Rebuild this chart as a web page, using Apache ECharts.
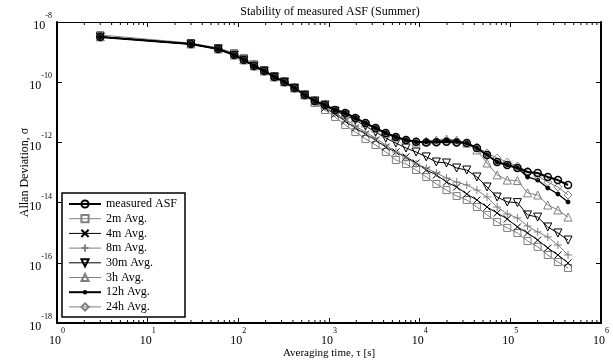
<!DOCTYPE html>
<html><head><meta charset="utf-8">
<script src="https://cdn.jsdelivr.net/npm/echarts@6/dist/echarts.min.js"></script>
<style>html,body{margin:0;padding:0;background:#fff}#c{width:613px;height:361px}</style>
</head><body><div id="c"></div>
<script>
// averaging time tau [s]
const tau = [3,30,60,90,115,149,193,250,323,417,540,698,903,1168,1510,1953,2526,3267,4225,5465,7068,9141,11823,15291,19770,25570,33070,42770,55320,71550,92520,119700,154800,200200,258800,334700,432900];

const asf = [3.2e-9,1.86e-9,1.27e-9,8.0e-10,5.5e-10,3.45e-10,2.35e-10,1.49e-10,1.02e-10,6.4e-11,3.76e-11,2.38e-11,1.75e-11,1.19e-11,9.5e-12,6.5e-12,4.4e-12,3.0e-12,2.05e-12,1.51e-12,1.2e-12,1.05e-12,1.0e-12,1.02e-12,1.06e-12,1.0e-12,9.5e-13,6.5e-13,3.8e-13,2.23e-13,1.78e-13,1.41e-13,1.04e-13,9.6e-14,7.1e-14,5.6e-14,3.85e-14];

const avg2m = [3.7e-9,2.0e-9,1.37e-9,9.3e-10,6.4e-10,4.0e-10,2.5e-10,1.6e-10,1.02e-10,6.4e-11,3.76e-11,2.04e-11,1.19e-11,7.0e-12,3.8e-12,2.2e-12,1.3e-12,8.2e-13,4.8e-13,2.6e-13,1.92e-13,1.21e-13,7.1e-14,4.15e-14,2.6e-14,1.66e-14,1.22e-14,7.1e-15,3.9e-15,2.27e-15,1.44e-15,9.8e-16,5.3e-16,3.4e-16,1.82e-16,1.06e-16,6.7e-17];

const avg4m = [3.2e-9,1.86e-9,1.27e-9,8.0e-10,5.5e-10,3.45e-10,2.35e-10,1.49e-10,1.02e-10,6.4e-11,3.76e-11,2.2e-11,1.39e-11,8.8e-12,5.1e-12,3.0e-12,1.9e-12,1.2e-12,7.0e-13,4.8e-13,3.3e-13,2.07e-13,1.21e-13,8.3e-14,4.8e-14,3.3e-14,1.93e-14,1.22e-14,7.1e-15,4.5e-15,2.86e-15,1.55e-15,9.8e-16,5.7e-16,3.1e-16,1.82e-16,9.9e-17];

const avg8m = [3.2e-9,1.86e-9,1.27e-9,8.0e-10,5.5e-10,3.45e-10,2.35e-10,1.49e-10,1.02e-10,6.4e-11,3.76e-11,2.2e-11,1.5e-11,9.5e-12,6.0e-12,3.5e-12,2.2e-12,1.4e-12,8.2e-13,4.8e-13,3.0e-13,1.92e-13,1.41e-13,9.6e-14,6.6e-14,4.8e-14,3.85e-14,2.6e-14,1.53e-14,7.1e-15,4.2e-15,3.1e-15,1.67e-15,1.06e-15,7.2e-16,3.9e-16,1.82e-16];

const avg30m = [3.2e-9,1.86e-9,1.27e-9,8.0e-10,5.5e-10,3.45e-10,2.35e-10,1.49e-10,1.02e-10,6.4e-11,3.76e-11,2.38e-11,1.75e-11,1.10e-11,8.1e-12,5.5e-12,3.5e-12,2.2e-12,1.4e-12,9.5e-13,6.5e-13,4.8e-13,3.3e-13,2.23e-13,2.07e-13,1.41e-13,1.21e-13,7.1e-14,3.3e-14,1.53e-14,1.05e-14,1.0e-14,3.9e-15,3.3e-15,1.55e-15,9.8e-16,5.7e-16];

const avg3h = [3.2e-9,1.86e-9,1.27e-9,8.0e-10,5.5e-10,3.45e-10,2.35e-10,1.49e-10,1.02e-10,6.4e-11,3.76e-11,2.38e-11,1.75e-11,1.19e-11,9.5e-12,6.5e-12,4.4e-12,3.0e-12,2.05e-12,1.51e-12,1.2e-12,1.03e-12,1.11e-12,1.2e-12,1.3e-12,1.2e-12,9.5e-13,5.6e-13,2.07e-13,8.3e-14,5.6e-14,5.4e-14,2.1e-14,1.79e-14,8.3e-15,5.7e-15,3.3e-15];

const avg12h = [3.2e-9,1.86e-9,1.27e-9,8.0e-10,5.5e-10,3.45e-10,2.35e-10,1.49e-10,1.02e-10,6.4e-11,3.76e-11,2.38e-11,1.75e-11,1.19e-11,9.5e-12,6.5e-12,4.4e-12,3.0e-12,2.05e-12,1.51e-12,1.2e-12,1.03e-12,1.05e-12,1.1e-12,1.15e-12,1.1e-12,9.5e-13,6.5e-13,3.8e-13,2.23e-13,1.78e-13,1.41e-13,7.1e-14,5.6e-14,3.05e-14,1.93e-14,1.05e-14];

const avg24h = [3.2e-9,1.86e-9,1.27e-9,8.0e-10,5.5e-10,3.45e-10,2.35e-10,1.49e-10,1.02e-10,6.4e-11,3.76e-11,2.38e-11,1.75e-11,1.19e-11,9.5e-12,6.5e-12,4.4e-12,3.0e-12,2.05e-12,1.51e-12,1.2e-12,1.05e-12,1.0e-12,1.02e-12,1.06e-12,1.0e-12,9.5e-13,7.0e-13,4.45e-13,3.0e-13,2.23e-13,1.64e-13,1.12e-13,7.7e-14,4.8e-14,3.3e-14,1.79e-14];

const seriesNames = ['measured ASF','2m Avg.','4m Avg.','8m Avg.','30m Avg.','3h Avg.','12h Avg.','24h Avg.'];
const minorTicks = [2,3,4,5,6,7,8,9,20,30,40,50,60,70,80,90,200,300,400,500,600,700,800,900,2000,3000,4000,5000,6000,7000,8000,9000,20000,30000,40000,50000,60000,70000,80000,90000,200000,300000,400000,500000,600000,700000,800000,900000];

const F = 'Liberation Serif';
const GRAY = '#7f7f7f';
const BLK = '#000';
const CROSS = 'path://M0,0L10,10M10,0L0,10';
const PLUS = 'path://M5,0L5,10M0,5L10,5';
const DOT = 'path://M0,0M10,10M3.2,5A1.8,1.8,0,1,1,6.8,5A1.8,1.8,0,1,1,3.2,5Z';

function mk(name, vals, sym, size, color, lw, opts) {
  opts = opts || {};
  return {
    name: name, type: 'line', data: tau.map((t, i) => [t, vals[i]]),
    symbol: sym, symbolSize: size, symbolRotate: opts.rot || 0, showSymbol: true,
    lineStyle: { color: color, width: lw },
    itemStyle: { color: opts.fill || 'rgba(0,0,0,0)', borderColor: color, borderWidth: opts.bw || 1 },
    emphasis: { disabled: true }, animation: false, z: opts.z || 2
  };
}

const labelRich = {
  b: { fontFamily: F, fontSize: 12, color: BLK, padding: [8, 0, 0, 0], verticalAlign: 'bottom' },
  s: { fontFamily: F, fontSize: 8, color: BLK, verticalAlign: 'top' }
};
const expFmt = v => '{b|10}{s|' + Math.round(Math.log10(v)) + '}';
const legendW = { 'measured ASF': 2, '12h Avg.': 2 };

const chart = echarts.init(document.getElementById('c'), null, { renderer: 'canvas' });
chart.setOption({
  animation: false,
  backgroundColor: '#fff',
  title: { text: 'Stability of measured ASF (Summer)', left: 325, top: 1, textAlign: 'center',
    textStyle: { fontFamily: F, fontSize: 12, fontWeight: 'normal', color: BLK } },
  grid: { left: 57, right: 12, top: 22, bottom: 38, containLabel: false, outerBoundsMode: 'none' },
  legend: {
    data: seriesNames.map(n => ({ name: n, lineStyle: { width: legendW[n] || 1 } })),
    orient: 'vertical', left: 62, top: 193,
    itemWidth: 32, itemHeight: 9, itemGap: 2.7, padding: [5, 8, 4, 6],
    borderColor: BLK, borderWidth: 1.5, backgroundColor: '#fff',
    textStyle: { fontFamily: F, fontSize: 12, color: BLK },
    selectedMode: false
  },
  xAxis: [{
    type: 'log', logBase: 10, min: 1, max: 1e6, interval: 1,
    name: 'Averaging time, \u03c4 [s]', nameLocation: 'middle', nameGap: 25, nameMoveOverlap: false,
    nameTextStyle: { fontFamily: F, fontSize: 11, color: BLK },
    axisLine: { lineStyle: { color: BLK, width: 2 } },
    axisTick: { inside: true, length: 5, lineStyle: { color: BLK, width: 1 } },
    axisLabel: { formatter: expFmt, rich: labelRich, margin: 4 },
    splitLine: { show: false }
  }, {
    type: 'log', logBase: 10, min: 1, max: 1e6, interval: 1, position: 'top',
    axisLine: { lineStyle: { color: BLK, width: 1 } },
    axisTick: { inside: true, length: 5, lineStyle: { color: BLK, width: 1 } },
    axisLabel: { show: false }, splitLine: { show: false }
  }],
  yAxis: [{
    type: 'log', logBase: 10, min: 1e-18, max: 1e-8, interval: 2,
    name: 'Allan Deviation, \u03c3', nameLocation: 'middle', nameGap: 26, nameMoveOverlap: false,
    nameTextStyle: { fontFamily: F, fontSize: 12, color: BLK },
    axisLine: { lineStyle: { color: BLK, width: 2 } },
    axisTick: { inside: true, length: 5, lineStyle: { color: BLK, width: 1 } },
    axisLabel: { formatter: expFmt, rich: labelRich, margin: 5 },
    splitLine: { show: false }
  }, {
    type: 'log', logBase: 10, min: 1e-18, max: 1e-8, interval: 2, position: 'right',
    axisLine: { lineStyle: { color: BLK, width: 2 } },
    axisTick: { inside: true, length: 5, lineStyle: { color: BLK, width: 1 } },
    axisLabel: { show: false }, splitLine: { show: false }
  }],
  series: [
    mk('2m Avg.', avg2m, 'rect', 7, GRAY, 1),
    mk('4m Avg.', avg4m, CROSS, 7, BLK, 1),
    mk('8m Avg.', avg8m, PLUS, 8, GRAY, 1),
    mk('30m Avg.', avg30m, 'triangle', 8, BLK, 1, { rot: 180 }),
    mk('3h Avg.', avg3h, 'triangle', 8, GRAY, 1),
    mk('12h Avg.', avg12h, DOT, 11, BLK, 1.3, { fill: BLK }),
    mk('24h Avg.', avg24h, 'diamond', 8, GRAY, 1),
    mk('measured ASF', asf, 'circle', 7, BLK, 2, { bw: 1.5, z: 3 }),
    {
      type: 'custom', silent: true, animation: false, clip: false, z: 5,
      data: minorTicks.map(v => [v, 1e-18]),
      renderItem: function (params, api) {
        const x = api.value(0);
        const pb = api.coord([x, 1e-18]);
        const pt = api.coord([x, 1e-8]);
        return { type: 'group', children: [
          { type: 'line', shape: { x1: pb[0], y1: pb[1], x2: pb[0], y2: pb[1] - 3 }, style: { stroke: BLK, lineWidth: 1 } },
          { type: 'line', shape: { x1: pt[0], y1: pt[1], x2: pt[0], y2: pt[1] + 3 }, style: { stroke: BLK, lineWidth: 1 } }
        ] };
      }
    }
  ]
});
</script>
</body></html>
